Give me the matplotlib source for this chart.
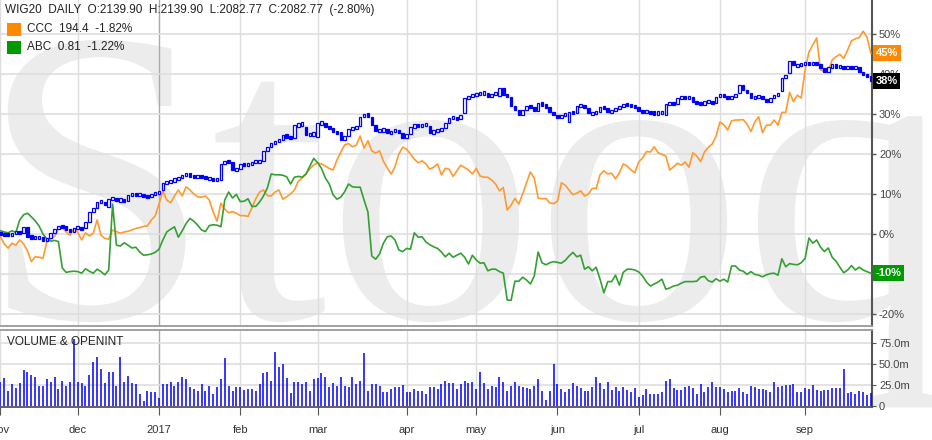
import numpy as np
import pandas as pd
import matplotlib
matplotlib.use("Agg")
import matplotlib.pyplot as plt
from matplotlib.patches import Rectangle, PathPatch
from matplotlib.textpath import TextPath
from matplotlib.font_manager import FontProperties
from matplotlib.transforms import Affine2D, blended_transform_factory

plt.rcParams['font.family'] = ['Liberation Sans', 'DejaVu Sans']

# Warsaw exchange trading days (holidays taken out)
holidays = ['2016-11-11', '2016-12-26', '2017-01-06', '2017-04-14', '2017-04-17',
            '2017-05-01', '2017-05-03', '2017-06-15', '2017-08-15']
dates = pd.bdate_range('2016-11-02', '2017-09-26', freq='C', holidays=holidays)

# WIG20 candles, % change from start
wig_open = [0.2, 0.0, -0.1, -0.3, 0.0, 0.6, 0.3, 1.8, -0.7, -0.8,
            -0.8, -0.8, -1.7, -1.1, 0.2, 1.2, 2.0, 1.8, 1.2, 0.6,
            1.4, 1.7, 1.4, 3.1, 5.6, 6.6, 8.1, 8.1, 6.8, 8.7,
            8.9, 8.5, 8.5, 8.3, 9.8, 9.9, 9.7, 9.9, 9.5, 9.3,
            9.9, 10.3, 11.0, 12.8, 13.1, 13.3, 13.7, 14.2, 14.7, 15.0,
            14.5, 14.2, 14.5, 14.2, 13.9, 13.9, 13.5, 13.5, 17.5, 18.3,
            18.1, 16.0, 16.3, 17.5, 17.3, 17.3, 18.1, 18.1, 18.3, 20.8,
            21.8, 22.8, 23.1, 23.5, 24.7, 24.3, 23.9, 27.2, 27.3, 26.8,
            24.8, 25.0, 24.3, 27.7, 27.8, 26.8, 26.4, 25.6, 25.6, 23.5,
            24.5, 26.2, 26.7, 27.0, 29.3, 30.0, 29.3, 27.2, 25.8, 25.8,
            26.2, 25.2, 25.6, 26.0, 25.2, 23.9, 25.0, 26.7, 27.3, 27.0,
            27.3, 27.0, 25.2, 25.8, 26.0, 26.4, 27.8, 28.9, 29.2, 28.7,
            30.2, 33.9, 34.3, 34.8, 35.0, 35.2, 35.3, 34.3, 34.8, 34.5,
            36.5, 34.8, 34.3, 32.0, 31.0, 29.8, 31.0, 32.0, 31.8, 30.8,
            32.7, 32.3, 31.7, 30.6, 29.8, 28.9, 29.8, 28.1, 30.6, 30.2,
            32.0, 32.3, 31.4, 30.2, 30.2, 30.6, 31.8, 31.4, 30.6, 30.8,
            31.4, 31.8, 32.5, 32.2, 32.0, 31.7, 30.8, 30.6, 30.6, 30.3,
            30.2, 30.3, 29.8, 32.5, 32.7, 32.5, 33.9, 34.2, 33.9, 34.3,
            33.1, 32.7, 32.4, 33.1, 33.2, 32.7, 34.3, 34.8, 34.6, 33.8,
            34.3, 35.2, 37.2, 36.0, 35.2, 34.1, 34.3, 34.6, 33.7, 33.1,
            34.1, 34.8, 35.7, 39.0, 40.2, 43.2, 42.2, 42.2, 42.4, 42.7,
            42.4, 42.9, 42.4, 41.4, 40.6, 41.8, 42.2, 41.8, 41.8, 41.6,
            41.8, 41.6, 41.8, 40.6, 39.7, 39.6]
wig_close = [0.0, -0.1, -0.3, 0.0, 0.6, 0.3, 1.7, -0.7, -0.8, -0.8,
             -0.8, -1.7, -1.1, 0.2, 1.2, 2.0, 1.8, 1.2, 0.6, 1.4,
             1.7, 1.0, 3.1, 5.6, 6.6, 8.1, 8.1, 7.2, 8.7, 8.9,
             8.5, 8.5, 8.3, 9.8, 9.9, 9.7, 9.9, 9.5, 9.3, 9.9,
             10.3, 10.6, 12.8, 13.1, 13.3, 13.7, 14.2, 14.7, 15.0, 14.5,
             14.2, 14.5, 14.2, 13.9, 13.9, 13.5, 13.7, 17.5, 18.3, 17.8,
             16.0, 16.3, 17.5, 17.3, 17.3, 18.1, 18.1, 18.1, 20.8, 21.8,
             22.8, 23.1, 23.5, 24.7, 24.3, 23.9, 27.2, 27.3, 27.7, 24.8,
             25.0, 25.0, 27.7, 27.8, 26.8, 26.4, 25.6, 25.2, 23.5, 24.5,
             26.2, 26.7, 26.7, 29.3, 30.0, 29.5, 27.2, 25.8, 25.8, 26.2,
             25.2, 25.6, 26.0, 25.2, 23.9, 25.0, 26.7, 27.3, 27.0, 27.3,
             27.3, 25.2, 25.8, 26.0, 26.4, 27.8, 28.9, 29.2, 28.7, 29.7,
             33.9, 34.3, 34.8, 35.0, 35.2, 35.3, 34.3, 34.8, 35.3, 36.5,
             34.8, 34.3, 32.0, 31.0, 29.8, 31.0, 32.0, 31.8, 30.8, 32.7,
             32.3, 31.7, 30.6, 29.8, 28.9, 29.8, 30.0, 30.6, 30.2, 32.0,
             32.3, 31.4, 30.2, 30.2, 30.6, 31.8, 31.4, 30.6, 30.8, 31.4,
             31.8, 32.5, 32.2, 32.0, 31.7, 30.8, 30.6, 30.6, 30.3, 30.2,
             30.3, 30.6, 32.5, 32.7, 32.5, 33.9, 34.2, 33.9, 34.3, 33.1,
             32.7, 32.4, 33.1, 33.2, 32.7, 34.3, 34.8, 34.6, 33.8, 34.3,
             34.9, 37.2, 36.0, 35.2, 34.1, 34.3, 34.6, 33.7, 33.1, 34.1,
             34.8, 34.9, 39.0, 39.7, 43.2, 42.2, 42.2, 42.4, 42.7, 42.4,
             42.9, 42.4, 41.4, 40.6, 41.8, 42.2, 41.8, 41.8, 41.6, 41.8,
             41.6, 41.8, 40.6, 39.7, 39.6, 38.2]

ccc = [-0.7, -2.5, -3.5, -2.3, -2.8, -1.5, -2.5, -4.2, -6.9, -5.7,
       -5.8, -6.1, -2.0, -1.2, -0.6, 1.2, 1.8, 0.5, -0.3, 1.4,
       0.5, -1.5, 0.3, -0.5, 0.2, 3.5, -0.3, -1.1, -1.3, 1.0,
       0.6, 0.2, 0.5, 0.7, 1.0, 1.4, 1.6, 1.9, 2.0, 3.5,
       4.5, 7.5, 10.8, 8.5, 7.8, 9.5, 11.0, 9.5, 11.8, 11.0,
       10.0, 9.3, 9.2, 9.5, 8.5, 5.5, 3.2, 7.7, 6.2, 5.3,
       5.6, 5.2, 4.6, 4.6, 4.4, 6.5, 8.8, 10.5, 11.0, 9.6,
       9.5, 10.5, 11.0, 8.7, 9.3, 10.0, 11.0, 13.2, 14.0, 15.0,
       16.3, 17.3, 17.8, 17.5, 17.0, 16.4, 16.0, 18.5, 20.5, 22.3,
       22.6, 21.8, 22.2, 24.5, 21.5, 23.3, 20.8, 20.2, 20.8, 18.2,
       16.5, 15.0, 16.8, 20.0, 21.7, 21.2, 20.0, 18.7, 17.8, 18.3,
       17.5, 16.2, 16.7, 17.5, 14.8, 16.4, 16.2, 14.4, 15.8, 17.2,
       16.6, 16.0, 15.0, 16.4, 14.5, 14.2, 14.2, 13.5, 12.5, 10.8,
       11.6, 6.0, 7.2, 8.9, 7.5, 10.0, 12.8, 15.5, 14.0, 9.0,
       8.8, 8.9, 7.8, 7.6, 8.2, 12.8, 12.2, 11.0, 9.8, 10.2,
       10.8, 9.5, 10.0, 11.4, 11.4, 14.8, 15.8, 15.0, 15.2, 13.8,
       15.3, 17.5, 17.0, 16.0, 15.3, 18.0, 19.0, 20.6, 20.5, 21.8,
       20.3, 19.9, 19.5, 16.0, 16.8, 17.7, 17.2, 18.0, 16.7, 20.3,
       19.5, 18.1, 20.5, 21.7, 22.5, 24.5, 28.0, 27.3, 26.0, 28.3,
       28.5, 28.5, 28.6, 27.5, 25.6, 28.0, 29.3, 25.3, 27.2, 27.2,
       28.5, 27.2, 30.4, 30.4, 35.4, 33.1, 34.7, 34.0, 41.0, 45.5,
       47.3, 49.0, 41.0, 40.7, 40.6, 43.5, 44.3, 44.9, 43.9, 46.0,
       48.3, 48.8, 49.1, 50.7, 49.2, 45.2]

abc = [0.8, 0.5, 0.3, 0.8, 0.4, 3.5, 4.8, 5.2, 4.3, 3.3,
       2.0, 0.0, -1.2, -1.8, -1.6, -1.9, -8.5, -9.6, -9.4, -9.3,
       -9.4, -9.8, -8.7, -9.3, -9.8, -8.8, -9.4, -10.2, -9.0, 7.5,
       -2.8, -3.0, -2.2, -2.8, -3.5, -3.3, -4.5, -5.3, -5.2, -5.0,
       -4.6, -3.8, -1.5, 0.5, 1.2, 1.8, -0.8, 0.8, 2.6, 3.9,
       3.2, 2.2, 1.0, 0.6, 2.1, 2.3, 2.2, 1.8, 8.5, 10.5,
       9.0, 9.9, 8.1, 8.2, 8.8, 6.9, 6.9, 8.0, 9.5, 11.5,
       15.0, 14.8, 14.8, 14.7, 14.3, 12.5, 14.2, 14.4, 14.2, 15.0,
       17.0, 18.9, 17.8, 16.4, 14.0, 12.5, 9.8, 8.7, 9.2, 10.6,
       12.5, 11.8, 11.7, 11.7, 8.5, 5.5, -5.5, -6.3, -5.0, -2.3,
       -0.7, -0.5, -1.5, -4.0, -4.4, -3.6, -3.8, 0.3, -0.8, -0.7,
       -2.0, -2.7, -3.2, -3.6, -4.5, -5.7, -4.8, -5.8, -5.3, -4.8,
       -5.8, -7.5, -5.3, -6.5, -7.3, -7.2, -9.2, -8.8, -8.8, -9.4,
       -9.8, -16.5, -16.6, -11.8, -11.8, -10.8, -11.5, -12.5, -10.5, -4.5,
       -7.2, -7.7, -7.2, -6.9, -7.1, -7.3, -6.6, -5.5, -4.6, -5.7,
       -5.3, -8.8, -8.2, -9.2, -8.3, -11.3, -14.7, -11.9, -11.9, -10.3,
       -12.8, -9.6, -8.8, -8.8, -9.0, -9.5, -10.5, -12.0, -13.0, -12.5,
       -12.0, -11.3, -13.8, -13.5, -13.0, -12.8, -12.3, -11.9, -11.9, -11.9,
       -11.8, -10.8, -10.6, -11.7, -12.0, -11.2, -11.8, -11.3, -12.0, -8.0,
       -8.0, -9.0, -9.3, -10.1, -9.4, -10.1, -10.3, -10.7, -10.2, -9.9,
       -9.8, -10.3, -6.2, -8.2, -7.4, -7.6, -7.7, -7.2, -6.1, -1.0,
       -2.3, -1.5, -3.3, -4.4, -3.5, -5.8, -6.8, -8.3, -9.7, -9.0,
       -7.9, -9.0, -8.3, -9.0, -9.4, -9.8]

# WIG20 volume, millions
volume = [28, 33, 18, 26, 21, 27, 43, 41, 37, 34,
          24, 24, 32, 28, 34, 20, 30, 24, 29, 80,
          28, 27, 24, 37, 53, 58, 44, 27, 40, 41,
          24, 59, 28, 36, 27, 26, 14, 6, 18, 16,
          16, 9, 26, 26, 28, 24, 29, 34, 32, 22,
          20, 18, 26, 18, 24, 14, 23, 32, 57, 24,
          18, 23, 23, 19, 20, 20, 18, 26, 39, 41,
          30, 64, 46, 50, 33, 15, 28, 28, 26, 29,
          18, 32, 33, 39, 35, 23, 27, 24, 34, 24,
          22, 35, 26, 30, 63, 18, 26, 26, 24, 16,
          16, 20, 22, 22, 25, 16, 16, 20, 18, 18,
          14, 23, 23, 20, 26, 30, 27, 27, 20, 26,
          30, 27, 28, 20, 40, 27, 20, 24, 23, 35,
          29, 18, 24, 29, 24, 22, 21, 20, 24, 32,
          18, 7, 18, 50, 26, 20, 16, 20, 27, 24,
          21, 18, 18, 23, 35, 27, 20, 28, 19, 22,
          18, 23, 19, 16, 21, 11, 13, 20, 14, 14,
          14, 17, 30, 32, 21, 19, 19, 22, 24, 21,
          14, 26, 16, 23, 28, 23, 23, 20, 16, 18,
          18, 21, 17, 14, 24, 22, 20, 20, 19, 16,
          29, 22, 24, 25, 25, 26, 17, 16, 21, 20,
          25, 19, 18, 19, 19, 21, 21, 21, 44, 15,
          16, 14, 18, 16, 13, 15]

W, H = 932, 440
fig = plt.figure(figsize=(W / 100, H / 100), dpi=100)

# big grey watermark behind everything
tp = TextPath((0, 0), 'Stooq', size=1, prop=FontProperties(family='Liberation Serif'))
wm = PathPatch(tp, transform=Affine2D().scale(416, 420).translate(-20, H - 318),
               fc='#ececec', ec='none', zorder=-5)
fig.add_artist(wm)

ax = fig.add_axes([0, 1 - 326 / H, 872 / W, 326 / H])
axv = fig.add_axes([0, 33 / H, 872 / W, 77 / H])
ax.set_facecolor('none')
axv.set_facecolor('white')

x = np.arange(len(dates))

# month ticks: first trading day of each month
month_idx = [i for i in range(len(dates)) if i == 0 or dates[i].month != dates[i - 1].month]
month_lbl = [str(dates[i].year) if dates[i].month == 1 else dates[i].strftime('%b').lower()
             for i in month_idx]

for a in (ax, axv):
    a.set_xlim(-0.1, 225.3)
    for i, lb in zip(month_idx, month_lbl):
        a.axvline(i, color='#aaaaaa' if lb.isdigit() else '#dddddd', lw=1, zorder=1)

# main panel
ax.set_ylim(-23, 58.5)
ax.set_yticks(range(-20, 60, 10))
ax.set_yticklabels([f'{v}%' for v in range(-20, 60, 10)])
ax.yaxis.tick_right()
ax.tick_params(axis='y', length=3, width=1, color='#555555', pad=2, labelsize=8, labelcolor='#444444')
ax.tick_params(axis='x', length=0, labelbottom=False)
ax.set_xticks(month_idx)
for v in range(-20, 60, 10):
    ax.axhline(v, color='#dedede', lw=1.2, zorder=1)

ax.plot(x, ccc, color='#ff9a2e', lw=1.2, zorder=3)
ax.plot(x, abc, color='#33a033', lw=1.2, zorder=3)

for i in x:
    o, c = wig_open[i], wig_close[i]
    lo, hi = min(o, c), max(o, c)
    if hi - lo < 0.8:
        m = (hi + lo) / 2
        lo, hi = m - 0.4, m + 0.4
    ax.add_patch(Rectangle((i - 0.33, lo), 0.66, hi - lo,
                           fc='white' if c >= o else '#0000ff', ec='#0000ff', lw=0.9, zorder=4))

for s in ('left', 'top'):
    ax.spines[s].set_visible(False)
ax.spines['right'].set_color('#555555')
ax.spines['right'].set_linewidth(1.5)
ax.spines['bottom'].set_color('#999999')
ax.spines['bottom'].set_linewidth(1.3)

# last value boxes on the right axis
tr = blended_transform_factory(ax.transAxes, ax.transData)
for val, col in ((ccc[-1], '#ff8800'), (wig_close[-1], '#000000'), (abc[-1], '#009900')):
    ax.text(1.004, val, f'{round(val)}%', transform=tr, ha='left', va='center', color='white',
            fontsize=8, fontweight='bold', clip_on=False, zorder=6,
            bbox=dict(boxstyle='square,pad=0.25', fc=col, ec='none'))

# volume panel
axv.vlines(x, 0, volume, color='#0000ff', lw=1.1, zorder=3)
axv.set_ylim(-1.6, 91)
axv.set_yticks([0, 25, 50, 75])
axv.set_yticklabels(['0', '25.0m', '50.0m', '75.0m'])
axv.yaxis.tick_right()
for v in (25, 50, 75):
    axv.axhline(v, color='#dedede', lw=1.2, zorder=1)
axv.set_xticks(month_idx)
axv.set_xticklabels(month_lbl)
axv.tick_params(axis='y', length=3, color='#555555', pad=2, labelsize=8, labelcolor='#444444')
axv.tick_params(axis='x', length=6, color='#555555', pad=7, labelsize=8, labelcolor='#333333')
axv.spines['left'].set_visible(False)
axv.spines['top'].set_color('#999999')
axv.spines['top'].set_linewidth(1.3)
axv.spines['right'].set_color('#555555')
axv.spines['right'].set_linewidth(1.5)
axv.spines['bottom'].set_color('#555555')
axv.spines['bottom'].set_linewidth(1.3)

# header and legend
fig.text(5 / W, 1 - 10 / H, 'WIG20  DAILY  O:2139.90  H:2139.90  L:2082.77  C:2082.77  (-2.80%)',
         ha='left', va='center', fontsize=8.5, color='#222222')
fig.add_artist(Rectangle((7 / W, 1 - 36 / H), 14 / W, 13 / H, transform=fig.transFigure,
                         fc='#ff8800', ec='none'))
fig.text(27 / W, 1 - 29.5 / H, 'CCC  194.4  -1.82%', ha='left', va='center', fontsize=8.5, color='#222222')
fig.add_artist(Rectangle((7 / W, 1 - 54 / H), 14 / W, 13 / H, transform=fig.transFigure,
                         fc='#009900', ec='none'))
fig.text(27 / W, 1 - 47.5 / H, 'ABC  0.81  -1.22%', ha='left', va='center', fontsize=8.5, color='#222222')
fig.text(7 / W, 1 - 342 / H, 'VOLUME & OPENINT', ha='left', va='center', fontsize=8.5, color='#222222')

fig.savefig('out.png', dpi=100)
